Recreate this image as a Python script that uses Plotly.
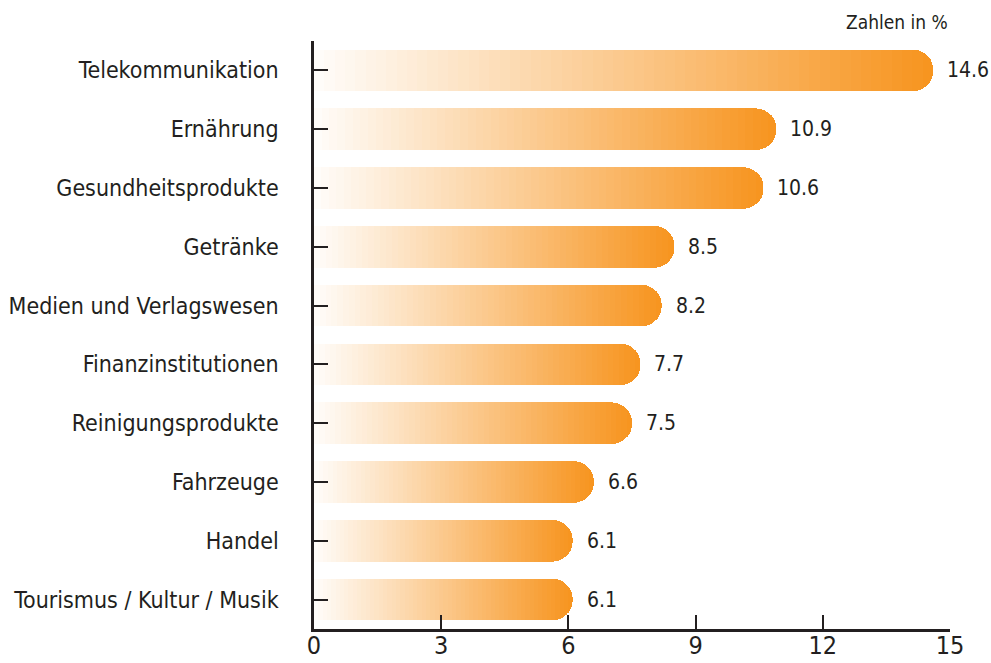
import plotly.graph_objects as go

categories = ["Telekommunikation", "Ernährung", "Gesundheitsprodukte", "Getränke",
              "Medien und Verlagswesen", "Finanzinstitutionen", "Reinigungsprodukte",
              "Fahrzeuge", "Handel", "Tourismus / Kultur / Musik"]
values = [14.6, 10.9, 10.6, 8.5, 8.2, 7.7, 7.5, 6.6, 6.1, 6.1]
value_labels = ["14.6", "10.9", "10.6", "8.5", "8.2", "7.7", "7.5", "6.6", "6.1", "6.1"]
x_ticks = [0, 3, 6, 9, 12, 15]
unit_note = "Zahlen in %"

FONT = "DejaVu Sans Condensed, Liberation Sans Narrow, sans-serif"
TXT = "#231f20"
ORANGE = (247, 148, 30)
N = 60

def mix(t):
    r = round(255 + (ORANGE[0] - 255) * t)
    g = round(255 + (ORANGE[1] - 255) * t)
    b = round(255 + (ORANGE[2] - 255) * t)
    return f"rgb({r},{g},{b})"

fig = go.Figure()
for i in range(N):
    t = 0.02 + 0.98 * (i + 0.5) / N
    fig.add_trace(go.Bar(
        y=categories, x=[v / N for v in values], orientation="h",
        marker=dict(color=mix(t), line=dict(width=0)),
        hoverinfo="skip", showlegend=False,
    ))

for c, v, lab in zip(categories, values, value_labels):
    fig.add_annotation(x=v, y=c, text=lab, showarrow=False, xanchor="left",
                       xshift=12, font=dict(family=FONT, size=21, color=TXT))

fig.add_annotation(x=1, y=1, xref="paper", yref="paper", text=unit_note,
                   showarrow=False, xanchor="right", yanchor="bottom", yshift=6,
                   font=dict(family=FONT, size=19, color=TXT))

fig.update_layout(
    width=991, height=663,
    margin=dict(l=314, r=41, t=41, b=34, autoexpand=False),
    barmode="stack", bargap=0.29, barcornerradius=21,
    plot_bgcolor="white", paper_bgcolor="white",
    font=dict(family=FONT, color=TXT),
)
fig.update_xaxes(range=[0, 15], tickvals=x_ticks, ticks="inside", ticklen=14,
                 tickwidth=2, tickcolor=TXT, showline=True, linecolor=TXT,
                 linewidth=2.5, showgrid=False, zeroline=False, ticklabelstandoff=-8,
                 tickfont=dict(family=FONT, size=25, color=TXT), fixedrange=True)
fig.update_yaxes(categoryorder="array", categoryarray=categories, autorange="reversed",
                 ticks="inside", ticklen=14, tickwidth=2, tickcolor=TXT,
                 showline=True, linecolor=TXT, linewidth=2.5, showgrid=False,
                 zeroline=False, ticklabelstandoff=28,
                 tickfont=dict(family=FONT, size=23, color=TXT), fixedrange=True)

fig.write_html("out.html", config={"displayModeBar": False},
               post_script="document.body.style.margin='0';document.body.style.overflow='hidden';")
